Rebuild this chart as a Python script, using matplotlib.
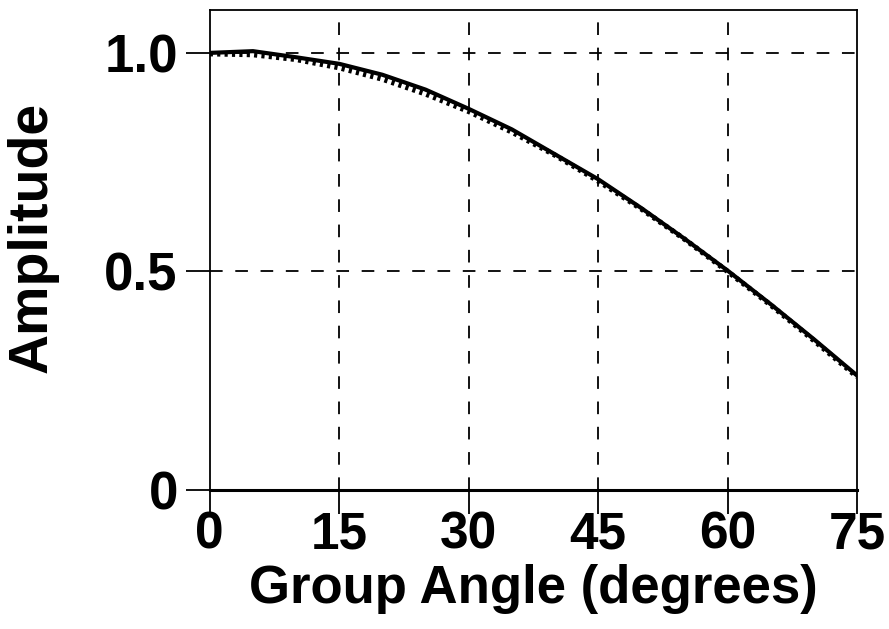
import numpy as np
import matplotlib
matplotlib.use('Agg')
import matplotlib.pyplot as plt

# values
angle = [0, 5, 10, 15, 20, 25, 30, 35, 40, 45, 50, 55, 60, 65, 70, 75]
amp_solid = [1.000, 1.004, 0.990, 0.975, 0.950, 0.916, 0.872, 0.825, 0.768,
             0.711, 0.645, 0.575, 0.502, 0.425, 0.345, 0.262]
amp_dotted = [0.998, 0.996, 0.985, 0.966, 0.940, 0.906, 0.866, 0.819, 0.766,
              0.707, 0.643, 0.574, 0.500, 0.423, 0.342, 0.259]

xticks = [0, 15, 30, 45, 60, 75]
yticks = [0, 0.5, 1.0]
ytick_labels = ['0', '0.5', '1.0']

plt.rcParams['font.family'] = ['Liberation Sans', 'DejaVu Sans']
plt.rcParams['font.weight'] = 'bold'

fig = plt.figure(figsize=(8.89, 6.29), dpi=100)
ax = fig.add_axes([0.236, 0.221, 0.728, 0.763])

ax.plot(angle, amp_dotted, color='k', lw=3.8, ls=(0, (0.6, 0.8)), zorder=3)
ax.plot(angle, amp_solid, color='k', lw=3.0, zorder=4)

# dashed grid lines
for x in xticks[1:-1]:
    ax.axvline(x, color='k', lw=1.3, ls=(0, (7, 7)), zorder=1)
ax.axhline(1.0, color='k', lw=1.3, ls=(0, (7, 7)), zorder=1)
ax.axhline(0.5, color='k', lw=1.3, ls=(0, (7, 7)), zorder=1)

ax.set_xlim(0, 75)
ax.set_ylim(0, 1.098)
ax.set_xticks(xticks)
ax.set_xticklabels([str(x) for x in xticks])
ax.set_yticks(yticks)
ax.set_yticklabels(ytick_labels)
ax.tick_params(axis='both', direction='out', length=17, width=1.3)
ax.tick_params(axis='x', labelsize=37, pad=-2)
ax.tick_params(axis='y', labelsize=38, pad=6)

for sp in ax.spines.values():
    sp.set_linewidth(1.3)
ax.spines['bottom'].set_linewidth(2.2)

ax.set_xlabel('Group Angle (degrees)', fontsize=38, fontweight='bold')
ax.set_ylabel('Amplitude', fontsize=40, fontweight='bold',
              va='center', ha='center', rotation_mode='default')
ax.xaxis.set_label_coords(0.50, -0.155)
ax.yaxis.set_label_coords(-0.274, 0.527)

fig.savefig('out.png', dpi=100)
